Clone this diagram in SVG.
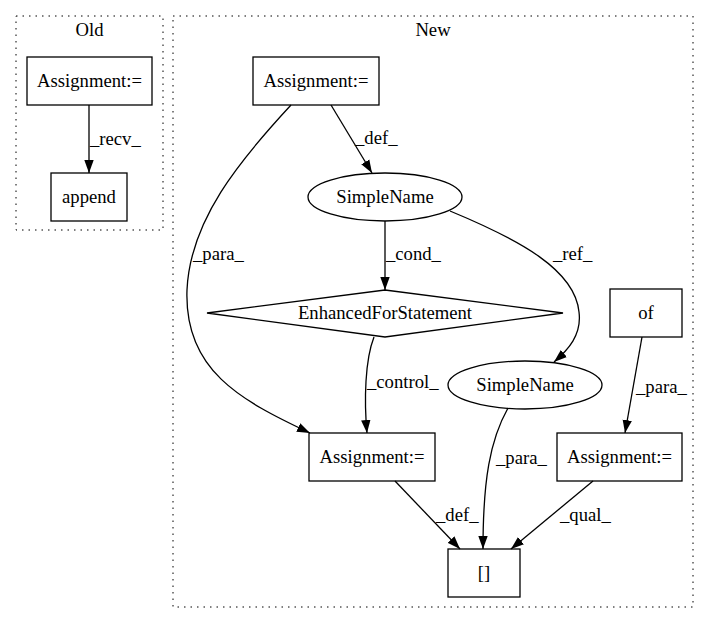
<svg xmlns="http://www.w3.org/2000/svg" width="709" height="624" viewBox="0 0 709 624">
<style>
text{font-family:"Liberation Serif","Times New Roman",serif;font-size:18.67px;fill:#000}
.c{fill:none;stroke:#000;stroke-dasharray:1.5,5}
.n{fill:none;stroke:#000;stroke-width:1.3}
.e{fill:none;stroke:#000;stroke-width:1.3}
.m{text-anchor:middle}
</style>
<defs>
<marker id="a" markerUnits="userSpaceOnUse" viewBox="0 0 13 10" refX="13" refY="5" markerWidth="13" markerHeight="10" orient="auto">
<path d="M0,0.3 L13,5 L0,9.7 z" fill="#000"/>
</marker>
</defs>
<rect width="709" height="624" fill="#fff"/>
<g id="cluster_old">
<rect class="c" x="16" y="16" width="147" height="214"/>
<text class="m" x="89.5" y="36">Old</text>
</g>
<g id="cluster_new">
<rect class="c" x="173" y="16" width="520" height="591"/>
<text class="m" x="433" y="36">New</text>
</g>
<g id="old_assign">
<rect class="n" x="27" y="57" width="125" height="48"/>
<text class="m" x="89.5" y="87">Assignment:=</text>
</g>
<g id="old_append">
<rect class="n" x="51" y="173" width="76" height="48"/>
<text class="m" x="89" y="203">append</text>
</g>
<g id="new_assign_top">
<rect class="n" x="253" y="57" width="126" height="48"/>
<text class="m" x="316" y="87">Assignment:=</text>
</g>
<g id="simplename1">
<ellipse class="n" cx="385" cy="197" rx="77" ry="24"/>
<text class="m" x="385" y="203">SimpleName</text>
</g>
<g id="enhancedfor">
<polygon class="n" points="385,290 563,313 385,337 207,313"/>
<text class="m" x="385" y="319">EnhancedForStatement</text>
</g>
<g id="of">
<rect class="n" x="610" y="289" width="72" height="48"/>
<text class="m" x="646" y="319">of</text>
</g>
<g id="simplename2">
<ellipse class="n" cx="525" cy="385" rx="77" ry="24"/>
<text class="m" x="525" y="391">SimpleName</text>
</g>
<g id="assign_mid">
<rect class="n" x="309" y="433" width="126" height="48"/>
<text class="m" x="372" y="463">Assignment:=</text>
</g>
<g id="assign_right">
<rect class="n" x="557" y="433" width="125" height="48"/>
<text class="m" x="619.5" y="463">Assignment:=</text>
</g>
<g id="index">
<rect class="n" x="448" y="549" width="72" height="48"/>
<text class="m" x="484" y="579">[]</text>
</g>
<g id="edges">
<path class="e" marker-end="url(#a)" d="M89,105 L89,173"/>
<text x="90" y="145">_recv_</text>
<path class="e" marker-end="url(#a)" d="M331,105 L372,173"/>
<text x="355" y="144">_def_</text>
<path class="e" marker-end="url(#a)" d="M291,105 C240,160 190,220 187,290 C184,370 240,400 310,433"/>
<text x="193" y="260">_para_</text>
<path class="e" marker-end="url(#a)" d="M385,221 L385,290"/>
<text x="386" y="260">_cond_</text>
<path class="e" marker-end="url(#a)" d="M450,211 C520,240 575,270 579,312 C582,335 568,350 554,362"/>
<text x="553" y="260">_ref_</text>
<path class="e" marker-end="url(#a)" d="M374,337 C365,360 364,400 367,433"/>
<text x="367" y="388">_control_</text>
<path class="e" marker-end="url(#a)" d="M642,337 L625,433"/>
<text x="636" y="393">_para_</text>
<path class="e" marker-end="url(#a)" d="M508,408 C490,440 483,480 483,549"/>
<text x="496" y="464">_para_</text>
<path class="e" marker-end="url(#a)" d="M395,481 L460,549"/>
<text x="436" y="521">_def_</text>
<path class="e" marker-end="url(#a)" d="M593,481 L511,549"/>
<text x="560" y="521">_qual_</text>
</g>
</svg>
